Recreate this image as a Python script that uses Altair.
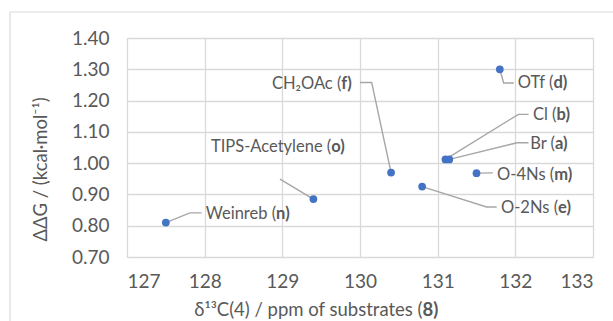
import altair as alt
import pandas as pd

# ---- data ----
names = ["Weinreb", "TIPS-Acetylene", "CH₂OAc", "O-2Ns", "Cl", "Br", "O-4Ns", "OTf"]
codes = ["n", "o", "f", "e", "b", "a", "m", "d"]
shift = [127.5, 129.4, 130.4, 130.8, 131.1, 131.15, 131.5, 131.8]
ddg = [0.81, 0.885, 0.97, 0.925, 1.012, 1.012, 0.968, 1.30]

# label anchors (start of the bold compound code), in data units
lab_x = [128.92, 129.63, 129.76, 132.55, 132.53, 132.51, 132.50, 132.49]
lab_y = [0.837, 1.052, 1.254, 0.856, 1.153, 1.060, 0.961, 1.256]

# leader line bend / end points, in data units
leader_x = [[127.81, 127.96], [128.97], [130.15, 130.0], [131.63, 131.76],
            [132.04, 132.17], [132.02, 132.17], [131.71], [131.85, 131.98]]
leader_y = [[0.841, 0.841], [0.949], [1.258, 1.258], [0.86, 0.86],
            [1.156, 1.156], [1.065, 1.065], [0.969], [1.256, 1.256]]

x_ticks = [127, 128, 129, 130, 131, 132, 133]
y_ticks = [0.70, 0.80, 0.90, 1.00, 1.10, 1.20, 1.30, 1.40]

FONT = "Lato"
GREY = "#595959"
FS = 16.5
AFS = 19
TFS = 18.5

pts = pd.DataFrame({"x": shift, "y": ddg, "name": names})
labs = pd.DataFrame({
    "x": lab_x, "y": lab_y,
    "pre": [n + " (" for n in names],
    "suf": [c + ")" for c in codes],
})
rows = []
for i, n in enumerate(names):
    rows.append({"x": shift[i], "y": ddg[i], "name": n, "seq": 0})
    for k, (lx, ly) in enumerate(zip(leader_x[i], leader_y[i])):
        rows.append({"x": lx, "y": ly, "name": n, "seq": k + 1})
lead = pd.DataFrame(rows)

xs = alt.Scale(domain=[127, 133], nice=False, zero=False)
ys = alt.Scale(domain=[0.70, 1.40], nice=False, zero=False)

xax = alt.Axis(values=x_ticks, format="d", grid=True, gridColor="#d9d9d9", gridWidth=1.3,
               ticks=False, domain=False, labelFont=FONT, labelFontSize=AFS, labelColor=GREY,
               labelPadding=15, labelOverlap=False, title=None)
yax = alt.Axis(values=y_ticks, format=".2f", grid=True, gridColor="#d9d9d9", gridWidth=1.3,
               ticks=False, domain=False, labelFont=FONT, labelFontSize=AFS, labelColor=GREY,
               labelPadding=18, labelOverlap=False, title="ΔΔG / (kcal·mol⁻¹)", titleFont=FONT,
               titleFontSize=TFS, titleFontWeight="normal", titleColor=GREY,
               titleX=-87, titleY=131, titleAngle=-90, titleAlign="center",
               titleBaseline="middle")

X = alt.X("x:Q", scale=xs, axis=xax)
Y = alt.Y("y:Q", scale=ys, axis=yax)

leaders = alt.Chart(lead).mark_line(color="#a6a6a6", strokeWidth=1.4).encode(
    x=X, y=Y, detail="name:N", order="seq:Q")

dots = alt.Chart(pts).mark_circle(size=60, color="#4472C4", opacity=1).encode(x=X, y=Y)

pre = alt.Chart(labs).mark_text(align="right", baseline="middle", font=FONT,
                                fontSize=FS, color=GREY).encode(x=X, y=Y, text="pre:N")
suf = alt.Chart(labs).mark_text(align="left", baseline="middle", font=FONT,
                                fontSize=FS, color=GREY, fontWeight="bold").encode(
    x=X, y=Y, text="suf:N")

xt_df = pd.DataFrame({"pre": ["δ¹³C(4) / ppm of substrates ("], "suf": ["8)"]})
xt_pre = alt.Chart(xt_df).mark_text(align="right", baseline="middle", font=FONT,
                                    fontSize=TFS, color=GREY).encode(
    x=alt.value(295.5), y=alt.value(272), text="pre:N")
xt_suf = alt.Chart(xt_df).mark_text(align="left", baseline="middle", font=FONT,
                                    fontSize=TFS, color=GREY, fontWeight="bold").encode(
    x=alt.value(295.5), y=alt.value(272), text="suf:N")

frame_l = alt.Chart(xt_df).mark_rule(color="#d9d9d9", strokeWidth=1.2).encode(
    x=alt.value(-117), y=alt.value(-26), y2=alt.value(300))
frame_t = alt.Chart(xt_df).mark_rule(color="#d9d9d9", strokeWidth=1.2).encode(
    x=alt.value(-117), x2=alt.value(520), y=alt.value(-26))

chart = alt.layer(frame_l, frame_t, leaders, dots, pre, suf, xt_pre, xt_suf).properties(
    width=466, height=219,
    autosize=alt.AutoSizeParams(type="none"),
    padding={"left": 127, "top": 38, "right": 20, "bottom": 64},
).configure_view(stroke=None).configure(background="white")

chart.save("out.html", embed_options={"renderer": "svg", "actions": False})
